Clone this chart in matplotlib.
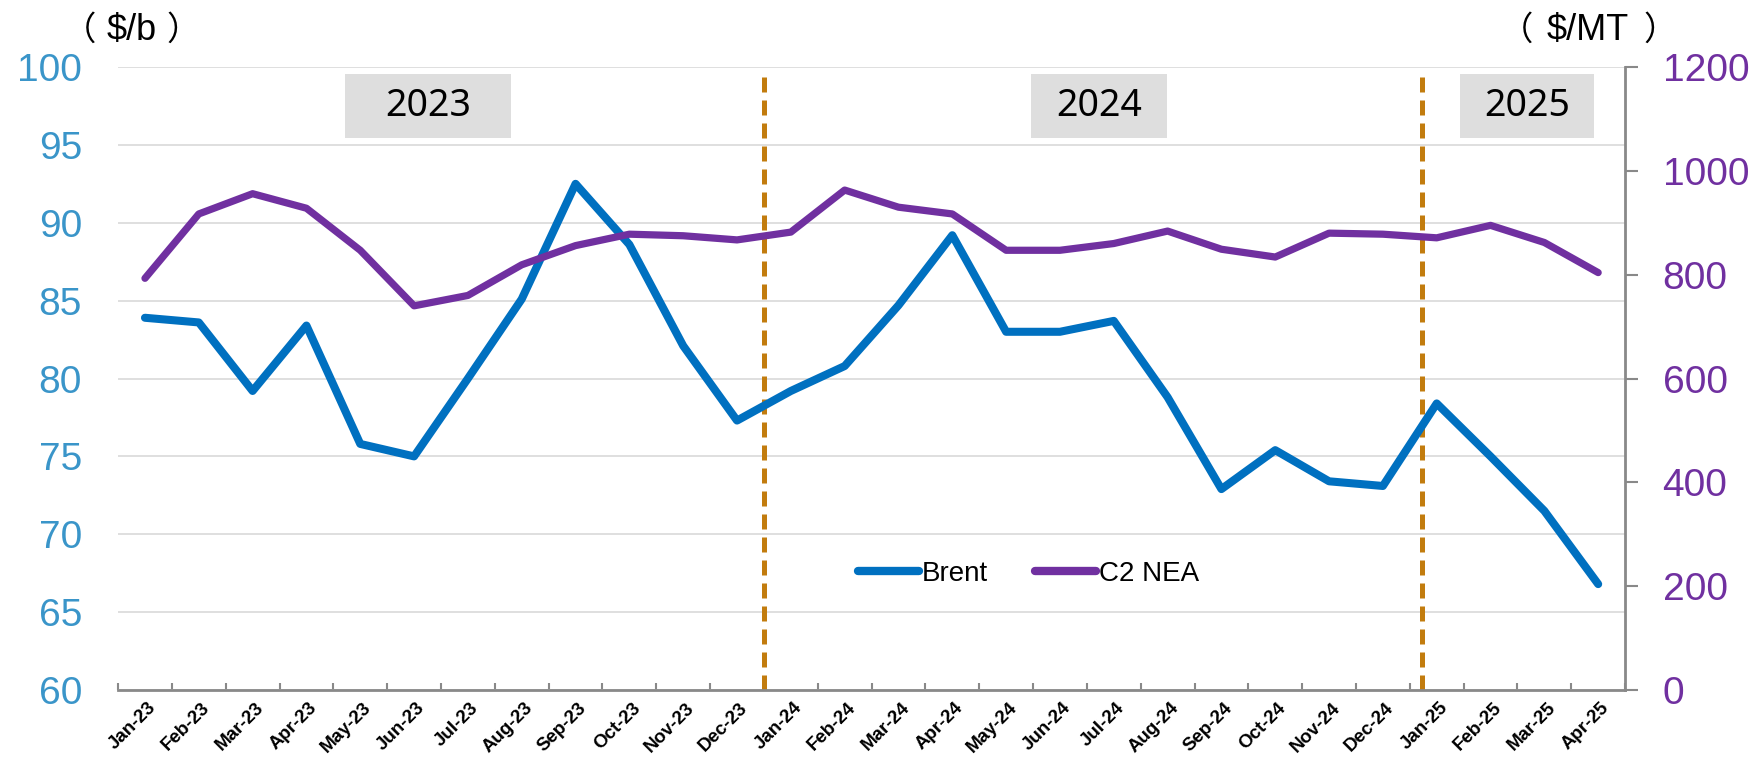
import matplotlib
matplotlib.use("Agg")
import matplotlib.pyplot as plt
import matplotlib.patches as patches
from matplotlib.lines import Line2D
import matplotlib.transforms as mtransforms
import numpy as np

months = ["Jan-23", "Feb-23", "Mar-23", "Apr-23", "May-23", "Jun-23", "Jul-23",
          "Aug-23", "Sep-23", "Oct-23", "Nov-23", "Dec-23", "Jan-24", "Feb-24",
          "Mar-24", "Apr-24", "May-24", "Jun-24", "Jul-24", "Aug-24", "Sep-24",
          "Oct-24", "Nov-24", "Dec-24", "Jan-25", "Feb-25", "Mar-25", "Apr-25"]
brent = [83.9, 83.6, 79.2, 83.4, 75.8, 75.0, 80.0, 85.1, 92.5, 88.6, 82.1, 77.3,
         79.2, 80.8, 84.7, 89.2, 83.0, 83.0, 83.7, 78.8, 72.9, 75.4, 73.4, 73.1,
         78.4, 75.0, 71.5, 66.8]
c2_nea = [793, 917, 956, 928, 847, 740, 760, 819, 856, 878, 875, 867,
          882, 963, 930, 917, 847, 847, 860, 884, 849, 834, 880, 878,
          871, 895, 862, 804]
years = ["2023", "2024", "2025"]
year_box_x = [(3.72, 6.80), (16.47, 18.98), (24.43, 26.93)]
year_dividers = [11.5, 23.72]

c_brent = "#0070C0"
c_c2 = "#7030A0"
c_left = "#3A95C9"
c_div = "#C27C0E"

plt.rcParams["font.family"] = ["Liberation Sans", "DejaVu Sans"]

fig = plt.figure(figsize=(17.62, 7.59), dpi=100)
ax = fig.add_axes([0.067, 0.0909, 0.8553, 0.8208])
ax2 = ax.twinx()

x = np.arange(len(months))

# gridlines (left scale)
ax.set_ylim(60, 100)
ax.set_yticks(np.arange(60, 101, 5))
ax.grid(axis="y", color="#D9D9D9", lw=1.2)
ax.set_axisbelow(True)
ax.set_xlim(-0.5, len(months) - 0.5)

for xd in year_dividers:
    ax.axvline(xd, ymin=0, ymax=0.989, color=c_div, lw=3.6,
               linestyle=(0, (3.0, 1.6)), zorder=2)

ax.plot(x, brent, color=c_brent, lw=5.8, solid_capstyle="round",
        solid_joinstyle="round", zorder=3)
ax2.plot(x, c2_nea, color=c_c2, lw=5.2, solid_capstyle="round",
         solid_joinstyle="round", zorder=3)
ax2.set_ylim(0, 1200)
ax2.set_yticks(np.arange(0, 1201, 200))

# year boxes
for yr, (x0, x1) in zip(years, year_box_x):
    r = patches.Rectangle((x0, 0.886), x1 - x0, 0.103, transform=ax.get_xaxis_transform(),
                          facecolor="#DEDEDE", edgecolor="none", zorder=1)
    ax.add_patch(r)
    ax.text((x0 + x1) / 2, 0.9375, yr, transform=ax.get_xaxis_transform(),
            ha="center", va="center", fontsize=27, family="Noto Sans", zorder=4)

# spines
for s in ["top", "left", "right"]:
    ax.spines[s].set_visible(False)
for s in ["top", "left", "bottom"]:
    ax2.spines[s].set_visible(False)
ax.spines["bottom"].set_color("#898989")
ax.spines["bottom"].set_linewidth(2)
ax2.spines["right"].set_color("#898989")
ax2.spines["right"].set_linewidth(2)

# x ticks at category boundaries, labels at centers
ax.set_xticks(np.arange(-0.5, len(months)), minor=False)
ax.set_xticklabels([])
ax.set_xticks(x, minor=True)
ax.set_xticklabels(months, minor=True, rotation=45, ha="right", va="center",
                   rotation_mode="anchor", fontsize=13.5, fontweight="bold")
ax.tick_params(axis="x", which="major", direction="in", length=5, color="#898989", width=1.5)
ax.tick_params(axis="x", which="minor", length=0, pad=11)
shift = mtransforms.ScaledTranslation(6 / 72, 0, fig.dpi_scale_trans)
for lab in ax.xaxis.get_minorticklabels():
    lab.set_transform(lab.get_transform() + shift)

ax.tick_params(axis="y", length=0, pad=26, labelsize=28, labelcolor=c_left)
ax2.tick_params(axis="y", length=9, width=1.5, color="#898989", pad=18,
                labelsize=28, labelcolor=c_c2)

# unit labels
cjk = ["Noto Sans CJK SC", "DejaVu Sans"]
uy = 1 - 30 / 759
fig.text(63 / 1762, uy, "（", ha="left", va="center", fontsize=24, family=cjk)
fig.text(132 / 1762, uy, "$/b", ha="center", va="center", fontsize=26)
fig.text(166 / 1762, uy, "）", ha="left", va="center", fontsize=24, family=cjk)
fig.text(1500 / 1762, uy, "（", ha="left", va="center", fontsize=24, family=cjk)
fig.text(1588 / 1762, uy, "$/MT", ha="center", va="center", fontsize=26)
fig.text(1643 / 1762, uy, "）", ha="left", va="center", fontsize=24, family=cjk)

# legend
handles = [Line2D([], [], color=c_brent, lw=6, solid_capstyle="round"),
           Line2D([], [], color=c_c2, lw=6, solid_capstyle="round")]
ax2.legend(handles, ["Brent", "C2 NEA"], loc="center", bbox_to_anchor=(0.604, 0.186),
           ncol=2, frameon=False, fontsize=20, handlelength=2.2, handletextpad=0.1,
           columnspacing=1.7)

fig.savefig("out.png", dpi=100)
